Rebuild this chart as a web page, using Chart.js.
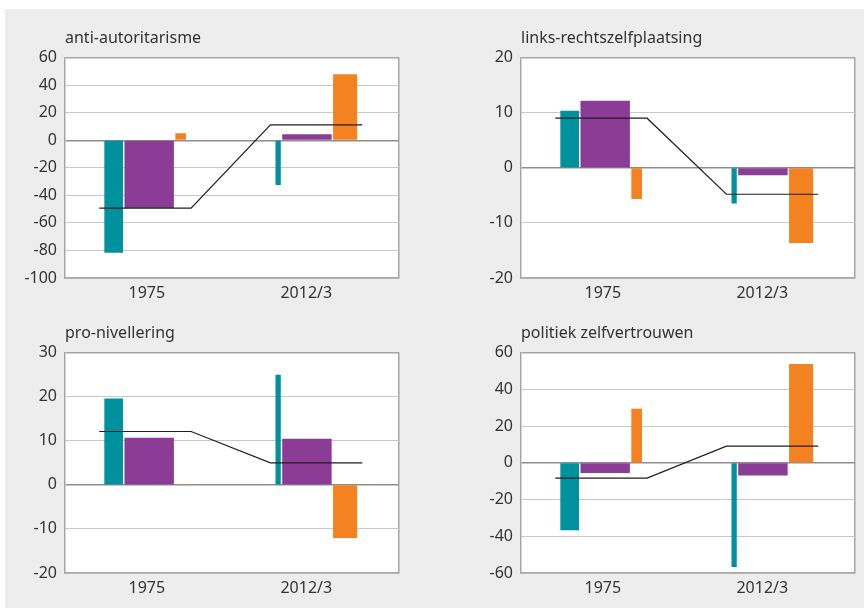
<!DOCTYPE html>
<html>
<head>
<meta charset="utf-8">
<script src="https://cdn.jsdelivr.net/npm/chart.js@4.4.1/dist/chart.umd.min.js"></script>
<style>
  html, body { margin: 0; padding: 0; background: #fff; }
  body { width: 864px; height: 608px; position: relative; overflow: hidden; font-family: 'Noto Sans', sans-serif; }
  #bg { position: absolute; left: 5px; top: 9px; right: 0; bottom: 0; background: #ededed; }
  canvas { position: absolute; }
  .title { position: absolute; font-size: 16px; line-height: 16px; color: #333; white-space: nowrap; }
</style>
</head>
<body>
<div id="bg"></div>
<script>
const categories = ['1975', '2012/3'];
const titles = ['anti-autoritarisme', 'links-rechtszelfplaatsing', 'pro-nivellering', 'politiek zelfvertrouwen'];

// share of each group in the survey year (%), sets the bar widths
const shares1975 = [23.5, 63.5, 13];
const shares2012 = [6, 63.5, 30.5];

// per panel: [1975, 2012/3]
const tealValues = [[-81.5, -32.2], [10.3, -6.4], [19.5, 24.9], [-36.5, -56.6]];
const purpleValues = [[-48.9, 4.1], [12.1, -1.3], [10.6, 10.4], [-5.4, -6.7]];
const orangeValues = [[4.8, 47.6], [-5.6, -13.6], [0, -12], [29.2, 53.6]];
const totalValues = [[-49.3, 11.1], [9, -4.8], [12.1, 5], [-8.3, 9.1]];

const yMins = [-100, -20, -20, -60];
const yMaxs = [60, 20, 30, 60];
const ySteps = [20, 10, 10, 20];

// layout
const colors = ['#00919e', '#8b3d96', '#f58220'];
const groupCenters = [0.96, 3.01];
const labelPos = [0.98, 2.89];
const groupSpan = 0.97;
const barGap = 0.025;
const lineHalf = 0.55;
const panelPos = [[5, 40], [461, 40], [5, 335], [461, 335]];
const frameColor = '#a5a5a5';
const gridColor = '#c8c8c8';
const zeroColor = '#8e8e8e';
const textColor = '#333';
const font = { family: "'Noto Sans', sans-serif", size: 16 };

const shares = [shares1975, shares2012];
const seriesValues = [tealValues, purpleValues, orangeValues];

const plotBackground = {
    id: 'plotBackground',
    beforeDraw(chart) {
        const a = chart.chartArea;
        chart.ctx.save();
        chart.ctx.fillStyle = '#fff';
        chart.ctx.fillRect(a.left, a.top, a.width, a.height);
        chart.ctx.restore();
    }
};

function barsFor(groupShares, center) {
    const total = groupShares.reduce((a, b) => a + b, 0);
    const avail = groupSpan - barGap * (groupShares.length - 1);
    let left = center - groupSpan / 2;
    return groupShares.map(function (s) {
        const w = avail * s / total;
        const bar = { x: left + w / 2, w: w };
        left += w + barGap;
        return bar;
    });
}

function makeChart(p) {
    const datasets = [{
        type: 'line',
        data: groupCenters.flatMap((c, g) => [
            { x: c - lineHalf, y: totalValues[p][g] },
            { x: c + lineHalf, y: totalValues[p][g] }
        ]),
        borderColor: '#1e1e1e',
        borderWidth: 1.2,
        pointRadius: 0,
        tension: 0,
        order: 0
    }];

    groupCenters.forEach(function (c, g) {
        barsFor(shares[g], c).forEach(function (b, s) {
            datasets.push({
                type: 'bar',
                data: [{ x: b.x, y: seriesValues[s][p][g] }],
                backgroundColor: colors[s],
                borderWidth: 0,
                grouped: false,
                barThickness: function (ctx) {
                    const xs = ctx.chart.scales.x;
                    return xs.getPixelForValue(b.w) - xs.getPixelForValue(0);
                },
                order: 1
            });
        });
    });

    const canvas = document.createElement('canvas');
    canvas.width = 400;
    canvas.height = 270;
    canvas.style.left = panelPos[p][0] + 'px';
    canvas.style.top = panelPos[p][1] + 'px';
    document.body.appendChild(canvas);

    const title = document.createElement('div');
    title.className = 'title';
    title.textContent = titles[p];
    title.style.left = (panelPos[p][0] + 60) + 'px';
    title.style.top = (panelPos[p][1] - 11) + 'px';
    document.body.appendChild(title);

    new Chart(canvas.getContext('2d'), {
        type: 'bar',
        data: { datasets: datasets },
        options: {
            responsive: false,
            animation: false,
            devicePixelRatio: 1,
            layout: { padding: { top: 0, right: 6, bottom: 0, left: 0 } },
            plugins: { legend: { display: false }, tooltip: { enabled: false } },
            scales: {
                x: {
                    type: 'linear',
                    min: 0,
                    max: 4,
                    offset: false,
                    afterBuildTicks: function (scale) {
                        scale.ticks = [0].concat(labelPos, [4]).map(v => ({ value: v }));
                    },
                    afterFit: function (scale) { scale.height = 32; },
                    ticks: {
                        autoSkip: false,
                        maxRotation: 0,
                        padding: 6,
                        color: textColor,
                        font: font,
                        callback: function (value, index) {
                            return (index >= 1 && index <= categories.length) ? categories[index - 1] : '';
                        }
                    },
                    grid: {
                        offset: false,
                        drawTicks: false,
                        lineWidth: 1.5,
                        color: ctx => ctx.tick && ctx.tick.value === 4 ? frameColor : 'rgba(0,0,0,0)'
                    },
                    border: { color: frameColor, width: 1.5 }
                },
                y: {
                    min: yMins[p],
                    max: yMaxs[p],
                    afterFit: function (scale) { scale.width = 60; },
                    ticks: { stepSize: ySteps[p], padding: 8, color: textColor, font: font },
                    grid: {
                        drawTicks: false,
                        color: function (ctx) {
                            const v = ctx.tick.value;
                            if (v === 0) return zeroColor;
                            if (v === yMins[p] || v === yMaxs[p]) return frameColor;
                            return gridColor;
                        },
                        lineWidth: ctx => (ctx.tick.value === 0 || ctx.tick.value === yMins[p] || ctx.tick.value === yMaxs[p]) ? 1.5 : 1
                    },
                    border: { color: frameColor, width: 1.5 }
                }
            }
        },
        plugins: [plotBackground]
    });
}

for (let p = 0; p < 4; p++) {
    makeChart(p);
}
</script>
</body>
</html>
